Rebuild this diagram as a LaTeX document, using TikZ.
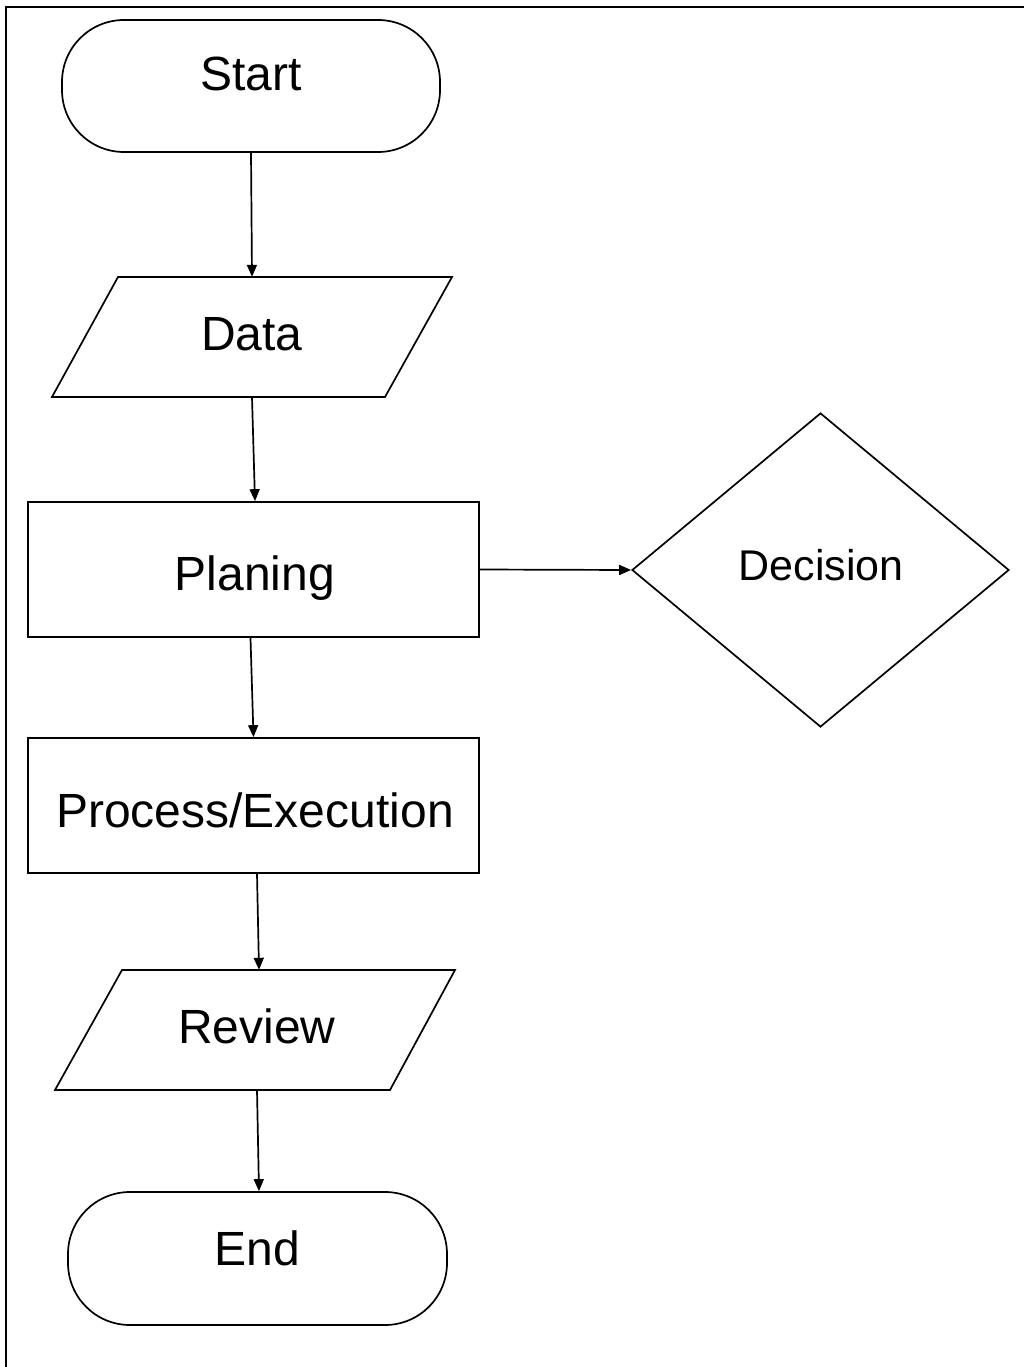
\documentclass[tikz,border=0pt]{standalone}
\usepackage{fontspec}
\setmainfont{Liberation Sans}
\usetikzlibrary{shapes.geometric,arrows.meta}
\begin{document}
\begin{tikzpicture}[x=1pt,y=-1pt,
  shapeline/.style={draw=black,line width=1.7pt},
  stadium/.style={shapeline,rectangle,rounded corners=62pt,inner sep=0pt},
  procbox/.style={shapeline,rectangle,inner sep=0pt},
  slot/.style={rectangle,inner sep=0pt},
  decbox/.style={shapeline,diamond,inner sep=0pt,aspect=1.2},
  lbl/.style={inner sep=0pt,anchor=base,font=\fontsize{48}{58}\selectfont},
  conn/.style={line width=1.7pt,-{Triangle[length=12pt,width=10pt]}}]
\useasboundingbox (0,0) rectangle (1024,1367);
\draw[line width=1.7pt] (6,1370) -- (6,7) -- (1030,7);

% Start
\node[stadium,minimum width=378pt,minimum height=132pt] (start) at (251,86) {};
\node[lbl] (tstart) at (251,91) {Start};

% Data
\node[slot,minimum width=400pt,minimum height=120pt] (data) at (252,337) {};
\draw[shapeline,line join=miter] (118,277) -- (452,277) -- (385,397) -- (52,397) -- cycle;
\node[lbl] (tdata) at (252,350) {Data};

% Planing
\node[procbox,minimum width=451pt,minimum height=135pt] (plan) at (253.5,569.5) {};
\node[lbl] (tplan) at (255,590) {Planing};

% Decision
\node[decbox,minimum width=377pt,minimum height=314pt] (dec) at (820.5,570) {};
\node[lbl,font=\fontsize{43}{52}\selectfont] (tdec) at (821,580) {Decision};

% Process
\node[procbox,minimum width=451pt,minimum height=135pt] (proc) at (253.5,805.5) {};
\node[lbl] (tproc) at (255,827) {Process/Execution};

% Review
\node[slot,minimum width=400pt,minimum height=120pt] (rev) at (255.5,1030) {};
\draw[shapeline,line join=miter] (122,970) -- (455,970) -- (390,1090) -- (55,1090) -- cycle;
\node[lbl] (trev) at (257,1043) {Review};

% End
\node[stadium,minimum width=379pt,minimum height=133pt] (end) at (257.5,1258.5) {};
\node[lbl] (tend) at (257,1265) {End};

% Connectors
\draw[conn] (start.south) -- (data.north);
\draw[conn] (data.south) -- ([xshift=1.5pt]plan.north);
\draw[conn] ([xshift=-3pt]plan.south) -- (proc.north);
\draw[conn] ([xshift=3.5pt]proc.south) -- ([xshift=3.5pt]rev.north);
\draw[conn] ([xshift=1.5pt]rev.south) -- ([xshift=1.5pt]end.north);
\draw[conn] (plan.east) -- (dec.west);
\end{tikzpicture}
\end{document}
